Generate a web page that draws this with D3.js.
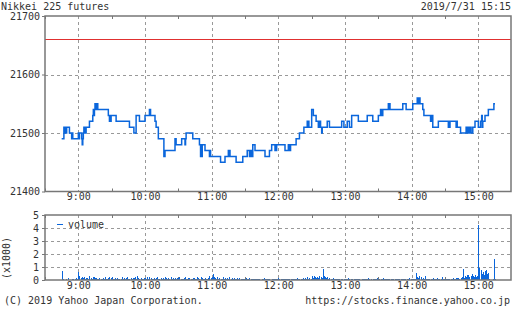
<!DOCTYPE html>
<html>
<head>
<meta charset="utf-8">
<script src="https://cdn.jsdelivr.net/npm/d3@7"></script>
<style>
  body { margin: 0; background: #fff; }
  text { font-family: "DejaVu Sans Mono", monospace; font-size: 10px; fill: #333; }
</style>
</head>
<body>
<svg id="chart" width="512" height="310"></svg>
<script>
// price steps [time, price]; each price holds until the next time
const priceSteps = [
  ["8:45",21490],["8:47",21510],["8:48",21500],["8:48:30",21510],["8:49",21500],["8:49:30",21510],
  ["8:52",21500],["8:54",21490],["8:54:30",21500],["8:55",21490],
  ["9:00",21500],["9:00:30",21490],["9:01",21500],["9:03",21490],["9:03:30",21480],["9:04",21490],["9:04:30",21500],
  ["9:05",21510],["9:05:30",21500],["9:06",21510],["9:06:30",21500],["9:07",21510],
  ["9:10",21520],["9:13",21530],["9:13:30",21540],["9:14",21530],["9:14:30",21540],
  ["9:15",21550],["9:15:30",21540],["9:16",21550],["9:16:30",21540],["9:17",21550],["9:17:30",21540],
  ["9:27",21530],["9:28",21520],["9:28:30",21530],["9:29",21520],["9:29:30",21530],["9:34",21520],
  ["9:46",21510],["9:50",21500],["9:52",21530],["9:55",21520],["10:00",21530],["10:04",21540],["10:05",21530],
  ["10:09",21520],["10:10",21510],["10:12",21490],["10:17",21460],["10:18",21470],["10:27",21490],["10:28",21480],
  ["10:33",21490],["10:36",21480],["10:36:30",21490],["10:37",21500],["10:43",21490],["10:49",21480],
  ["10:50",21460],["10:50:30",21480],["10:51",21460],["10:51:30",21480],["10:54",21470],["10:58",21460],["10:58:30",21470],["10:59",21460],
  ["11:08",21450],["11:12",21460],["11:15",21470],["11:15:30",21460],["11:16",21470],["11:16:30",21460],
  ["11:22",21450],["11:28",21460],["11:32",21470],["11:34",21460],["11:35",21470],["11:35:30",21460],["11:36",21470],["11:36:30",21460],
  ["11:37",21480],["11:39",21470],["11:48",21460],["11:52",21470],["11:54",21480],["11:57",21470],["11:57:30",21480],["11:58",21470],["11:58:30",21480],
  ["12:06",21470],["12:09",21480],["12:09:30",21470],["12:10",21480],["12:10:30",21470],["12:11",21480],
  ["12:16",21490],["12:19",21500],["12:23",21510],["12:26",21520],["12:26:30",21510],["12:27",21520],["12:27:30",21510],
  ["12:30",21540],["12:31:30",21530],["12:34",21520],["12:36",21510],["12:36:30",21520],["12:37",21510],["12:37:30",21520],["12:38",21510],
  ["12:39",21500],["12:39:30",21510],["12:44",21520],["12:46",21510],["12:57",21520],["12:59",21510],["13:02",21520],["13:04",21510],
  ["13:06",21530],["13:12",21520],["13:20",21530],["13:25",21520],["13:30",21530],["13:32",21540],["13:32:30",21530],["13:33",21540],["13:33:30",21530],
  ["13:34",21540],["13:39",21550],["13:39:30",21540],["13:40",21550],["13:40:30",21540],["13:52",21550],["13:55",21540],
  ["14:01",21550],["14:05",21560],["14:05:30",21550],["14:06",21560],["14:06:30",21550],["14:07",21560],["14:07:30",21550],
  ["14:10",21540],["14:11",21530],["14:17",21520],["14:17:30",21530],["14:18",21520],["14:18:30",21530],["14:19",21510],["14:24",21520],
  ["14:33",21510],["14:33:30",21520],["14:34",21510],["14:34:30",21520],["14:40",21510],["14:40:30",21520],["14:41",21510],["14:44",21500],
  ["14:49",21510],["14:49:30",21500],["14:50",21510],["14:50:30",21500],["14:51",21510],["14:51:30",21500],["14:52",21510],["14:52:30",21500],["14:53",21510],["14:53:30",21500],
  ["14:55",21510],["14:57",21520],["15:00",21510],["15:02",21520],["15:03",21530],["15:03:30",21510],["15:04",21520],
  ["15:06",21530],["15:09",21540],["15:14",21550],["15:15",21550]
];

const prevClose = 21660;

// volume per minute (x1000), starting 8:45
const volumeStart = "8:45";
const volumes = [
  0.70,
  0.05,0.03,0.02,0.04,0.02,0.15,0.03,0.02,0.05,0.10,0.03,0.04,0.12,0.06,
  0.65,0.30,0.12,0.20,0.15,0.22,0.10,0.18,0.12,0.08,
  0.30,0.15,0.10,0.20,0.25,0.18,0.12,0.10,0.08,0.15,
  0.10,0.05,0.12,0.08,0.20,0.10,0.06,0.15,0.22,0.12,
  0.25,0.10,0.08,0.12,0.05,0.18,0.10,0.06,0.08,0.20,
  0.05,0.12,0.08,0.15,0.22,0.10,0.06,0.18,0.08,0.12,
  0.15,0.20,0.10,0.28,0.12,0.08,0.15,0.06,0.10,0.18,
  0.12,0.08,0.20,0.10,0.25,0.15,0.06,0.10,0.18,0.08,
  0.15,0.22,0.10,0.06,0.12,0.08,0.18,0.10,0.25,0.12,
  0.08,0.15,0.10,0.20,0.06,0.12,0.08,0.15,0.10,0.18,
  0.12,0.25,0.08,0.10,0.06,0.15,0.20,0.10,0.08,0.12,
  0.18,0.10,0.06,0.12,0.15,0.08,0.10,0.20,0.12,0.06,
  0.25,0.15,0.10,0.08,0.12,0.06,0.10,0.15,0.30,0.12,
  0.20,0.45,0.25,0.12,0.10,0.20,0.08,0.15,0.06,0.10,
  0.22,0.08,0.12,0.06,0.15,0.10,0.25,0.08,0.12,0.06,
  0.18,0.10,0.08,0.12,0.06,0.15,0.05,0.10,0.06,0.08,
  0.05,0.12,0.06,0.08,0.15,0.05,0.10,0.06,0.04,0.08,
  0.05,0.04,0.10,0.06,0.03,0.08,0.05,0.12,0.04,0.06,
  0.04,0.08,0.05,0.03,0.06,0.10,0.04,0.05,0.08,0.06,
  0.12,0.06,0.04,0.08,0.05,0.10,0.06,0.04,0.08,0.05,
  0.06,0.04,0.10,0.05,0.08,0.04,0.06,0.15,0.05,0.08,
  0.06,0.10,0.15,0.08,0.12,0.06,0.20,0.10,0.15,0.08,
  0.28,0.15,0.30,0.20,0.12,0.25,0.18,0.30,0.22,0.15,
  0.85,0.30,0.20,0.12,0.25,0.08,0.15,0.10,0.06,0.12,
  0.10,0.06,0.08,0.04,0.06,0.05,0.04,0.06,0.03,0.05,
  0.08,0.05,0.04,0.12,0.06,0.04,0.05,0.03,0.06,0.04,
  0.05,0.10,0.04,0.06,0.03,0.05,0.08,0.04,0.06,0.05,
  0.04,0.15,0.05,0.06,0.03,0.10,0.05,0.04,0.06,0.12,
  0.08,0.05,0.06,0.04,0.15,0.06,0.05,0.08,0.04,0.10,
  0.05,0.04,0.08,0.06,0.03,0.05,0.04,0.06,0.08,0.05,
  0.04,0.06,0.05,0.10,0.04,0.03,0.05,0.06,0.12,0.04,
  0.06,0.08,0.05,0.10,0.55,0.20,0.12,0.30,0.25,0.10,
  0.15,0.08,0.30,0.06,0.05,0.10,0.05,0.04,0.06,0.18,
  0.05,0.04,0.06,0.12,0.05,0.06,0.04,0.20,0.05,0.04,
  0.06,0.05,0.08,0.06,0.10,0.08,0.06,0.12,0.08,0.10,
  0.15,0.12,0.18,0.10,0.15,0.25,0.85,0.12,0.30,0.20,
  0.35,0.40,0.25,0.30,0.45,0.30,0.20,0.35,0.25,0.30,
  4.20,0.90,0.75,0.45,0.60,0.40,0.70,0.80,0.50,0.55,
  0.04,0.03,0.03,0.05,1.60,0.05
];

const hourTicks = ["9:00","10:00","11:00","12:00","13:00","14:00","15:00"];
const halfTicks = ["8:30","9:30","10:30","11:30","12:30","13:30","14:30","15:30"];
const priceTicks = [21400, 21500, 21600, 21700];
const volumeTicks = [0, 1, 2, 3, 4, 5];

const blue = '#0a66dc';
const frameColor = '#777';
const gridColor = '#999';

function toMin(s) {
  let p = s.split(':').map(Number);
  return p[0] * 60 + p[1] + (p[2] || 0) / 60;
}

const svg = d3.select('#chart');

const x = d3.scaleLinear().domain([toMin("8:30"), toMin("15:30")]).range([45, 511.67]);
const yP = d3.scaleLinear().domain([21400, 21700]).range([191.5, 16]);
const yV = d3.scaleLinear().domain([0, 5]).range([280, 215]);

// title and date
svg.append('text').attr('x', 1).attr('y', 10).text('Nikkei 225 futures');
svg.append('text').attr('x', 511).attr('y', 10).attr('text-anchor', 'end').text('2019/7/31 15:15');

function panel(top, bottom, yScale, hGrid) {
  let g = svg.append('g');
  // horizontal gridlines
  hGrid.forEach(v => g.append('line')
    .attr('x1', 45).attr('x2', 511)
    .attr('y1', Math.round(yScale(v)) + 0.5).attr('y2', Math.round(yScale(v)) + 0.5)
    .style('stroke', gridColor).style('stroke-dasharray', '3,3'));
  // vertical gridlines at each hour
  hourTicks.forEach(t => g.append('line')
    .attr('x1', Math.round(x(toMin(t))) + 0.5).attr('x2', Math.round(x(toMin(t))) + 0.5)
    .attr('y1', top).attr('y2', bottom)
    .style('stroke', gridColor).style('stroke-dasharray', '3,3'));
  // half hour ticks, top and bottom
  halfTicks.forEach(t => {
    let xx = Math.round(x(toMin(t))) + 0.5;
    g.append('line').attr('x1', xx).attr('x2', xx)
      .attr('y1', top).attr('y2', top + 3).style('stroke', frameColor);
    g.append('line').attr('x1', xx).attr('x2', xx)
      .attr('y1', bottom - 3).attr('y2', bottom).style('stroke', frameColor);
  });
  return g;
}

const mainG = panel(16, 191.5, yP, [21500, 21600]);
const volG = panel(215, 280, yV, [1, 2, 3, 4]);

// price line
const line = d3.line()
  .x(d => x(toMin(d[0])))
  .y(d => yP(d[1]))
  .curve(d3.curveStepAfter);
mainG.append('path')
  .datum(priceSteps)
  .attr('d', line)
  .style('fill', 'none')
  .style('stroke', blue)
  .style('stroke-width', 1.5);

// previous close
mainG.append('line')
  .attr('x1', 45).attr('x2', 511)
  .attr('y1', Math.round(yP(prevClose)) + 0.5).attr('y2', Math.round(yP(prevClose)) + 0.5)
  .style('stroke', '#e03030').style('stroke-width', 1);

// volume bars
const v0 = toMin(volumeStart);
volG.selectAll('rect.vol')
  .data(volumes)
  .enter().append('rect')
  .attr('class', 'vol')
  .attr('x', (d, i) => Math.round(x(v0 + i)))
  .attr('width', 1)
  .attr('y', d => Math.round(yV(d)))
  .attr('height', d => yV(0) - Math.round(yV(d)))
  .style('fill', blue)
  .style('shape-rendering', 'crispEdges');

// frames
[[16, 191.5], [215, 280]].forEach(([t, b]) => {
  svg.append('rect').attr('x', 45).attr('y', t).attr('width', 466).attr('height', b - t)
    .style('fill', 'none').style('stroke', frameColor).style('stroke-width', 1.5);
});

// y axes
const leftP = svg.append('g').attr('transform', 'translate(45,0)')
  .call(d3.axisLeft(yP).tickValues(priceTicks).tickSize(3).tickPadding(2).tickFormat(d3.format('d')));
const leftV = svg.append('g').attr('transform', 'translate(45,0)')
  .call(d3.axisLeft(yV).tickValues(volumeTicks).tickSize(3).tickPadding(3).tickFormat(d3.format('d')));
[leftP, leftV].forEach(a => {
  a.select('.domain').remove();
  a.selectAll('line').style('stroke', frameColor);
  a.selectAll('text').style('font-family', '"DejaVu Sans Mono", monospace').style('font-size', '10px').style('fill', '#333');
});

// x axes labels
[200, 289].forEach(yy => {
  let ax = svg.append('g').attr('transform', `translate(0,${yy - 7})`)
    .call(d3.axisBottom(x).tickValues(hourTicks.map(toMin)).tickSize(0).tickPadding(0)
      .tickFormat(m => `${Math.floor(m / 60)}:${String(m % 60).padStart(2, '0')}`));
  ax.select('.domain').remove();
  ax.selectAll('text').style('font-family', '"DejaVu Sans Mono", monospace').style('font-size', '10px').style('fill', '#333');
});

// volume legend and unit
svg.append('line').attr('x1', 57).attr('x2', 63).attr('y1', 224.5).attr('y2', 224.5)
  .style('stroke', blue).style('stroke-width', 1);
svg.append('text').attr('x', 68).attr('y', 228).text('volume');
svg.append('text').attr('transform', 'translate(10,258) rotate(-90)')
  .attr('text-anchor', 'middle').text('(x1000)');

// footer
svg.append('text').attr('x', 4).attr('y', 304).text('(C) 2019 Yahoo Japan Corporation.');
svg.append('text').attr('x', 510).attr('y', 304).attr('text-anchor', 'end').text('https://stocks.finance.yahoo.co.jp');
</script>
</body>
</html>
